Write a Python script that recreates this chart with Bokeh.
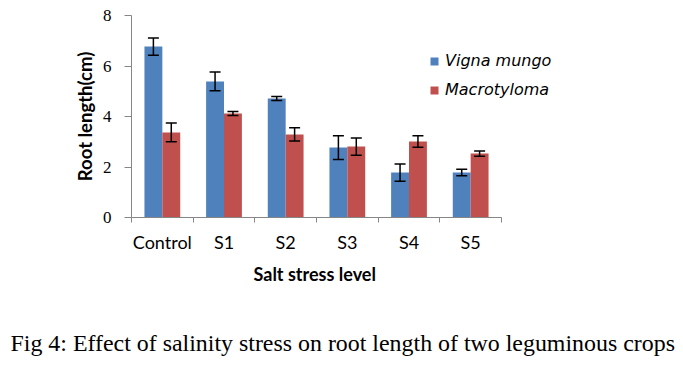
import numpy as np
from bokeh.plotting import figure
from bokeh.models import (ColumnDataSource, FixedTicker, Whisker, TeeHead, Legend,
                          LegendItem, Title, Range1d)
from bokeh.embed import file_html
from bokeh.resources import INLINE

categories = ["Control", "S1", "S2", "S3", "S4", "S5"]
series_names = ["Vigna mungo", "Macrotyloma"]
vigna = [6.77, 5.39, 4.71, 2.77, 1.78, 1.78]
vigna_err = [0.34, 0.37, 0.08, 0.47, 0.34, 0.13]
macro = [3.37, 4.12, 3.29, 2.81, 3.01, 2.53]
macro_err = [0.37, 0.08, 0.26, 0.34, 0.23, 0.10]
y_ticks = [0, 2, 4, 6, 8]
colors = ["#4F81BD", "#C0504D"]
x_title = "Salt stress level"
y_title = "Root length(cm)"
caption_text = "Fig 4: Effect of salinity stress on root length of two leguminous  crops"

n = len(categories)
centers = np.arange(n) + 0.5
bw = 0.29

# frame is wider than the category axis so the legend (which sits to the
# right of the bars) is not clipped; the axis itself is bounded to the categories
frame_l = 131
frame_w = 469
axis_w = 370
p = figure(width=675, height=360, output_backend="svg", toolbar_location=None,
           x_range=Range1d(0, n * frame_w / axis_w), y_range=Range1d(0, 8))
p.min_border_left = frame_l
p.min_border_right = 675 - frame_l - frame_w
p.min_border_top = 15
p.min_border_bottom = 143
p.outline_line_color = None
p.xgrid.visible = False
p.ygrid.visible = False

renderers = []
for k, (vals, errs) in enumerate([(vigna, vigna_err), (macro, macro_err)]):
    xs = centers + (k - 0.5) * bw
    v = np.array(vals)
    e = np.array(errs)
    src = ColumnDataSource(dict(x=xs, top=v, upper=v + e, lower=v - e))
    r = p.vbar(x="x", top="top", width=bw, source=src, fill_color=colors[k],
               line_color=None)
    renderers.append(r)
    w = Whisker(base="x", upper="upper", lower="lower", source=src,
                line_color="black", line_width=1.5, level="overlay",
                upper_head=TeeHead(size=11, line_color="black", line_width=1.5),
                lower_head=TeeHead(size=11, line_color="black", line_width=1.5))
    p.add_layout(w)

# x axis
xa = p.xaxis[0]
xa.bounds = (0, n)
xa.ticker = FixedTicker(ticks=list(centers), minor_ticks=list(range(n + 1)))
xa.major_label_overrides = {float(c): lab for c, lab in zip(centers, categories)}
xa.major_tick_line_color = None
xa.major_tick_out = 0
xa.major_tick_in = 0
xa.minor_tick_out = 5
xa.minor_tick_in = 0
xa.minor_tick_line_color = "#868686"
xa.axis_line_color = "#868686"
xa.major_label_text_font = "Lato"
xa.major_label_text_font_size = "18px"
xa.major_label_text_color = "black"
xa.major_label_standoff = 8

ya = p.yaxis[0]
ya.ticker = FixedTicker(ticks=y_ticks, minor_ticks=[])
ya.major_tick_out = 7
ya.major_tick_in = 0
ya.major_tick_line_color = "#868686"
ya.minor_tick_line_color = None
ya.axis_line_color = "#868686"
ya.major_label_text_font = "Liberation Serif"
ya.major_label_text_font_size = "17px"
ya.major_label_text_color = "black"
ya.major_label_standoff = 13
ya.axis_label = y_title
ya.axis_label_text_font = "Lato"
ya.axis_label_text_font_style = "bold"
ya.axis_label_text_font_size = "18.5px"
ya.axis_label_text_color = "black"
ya.axis_label_standoff = 4

legend = Legend(items=[LegendItem(label=series_names[i], renderers=[renderers[i]])
                       for i in range(2)],
                location=(298, 118), orientation="vertical")
legend.glyph_width = 10
legend.glyph_height = 10
legend.label_standoff = 6
legend.spacing = 10
legend.padding = 0
legend.margin = 0
legend.border_line_color = None
legend.background_fill_alpha = 0
legend.label_text_font = "DejaVu Sans"
legend.label_text_font_style = "italic"
legend.label_text_font_size = "16px"
legend.label_text_color = "black"
p.add_layout(legend)


def spacer(gap):
    return Title(text=" ", standoff=gap, text_font_size="1px", vertical_align="top")


p.add_layout(spacer(4), "below")
xt = Title(text=x_title, align="left", offset=122, standoff=0, vertical_align="top",
           text_font="Lato", text_font_size="18px", text_font_style="bold",
           text_color="black")
p.add_layout(xt, "below")
p.add_layout(spacer(40), "below")
caption = Title(text=caption_text, align="left", offset=10 - frame_l, standoff=0,
                vertical_align="top",
                text_font="Liberation Serif", text_font_size="23.9px",
                text_font_style="normal", text_color="black")
p.add_layout(caption, "below")

open("out.html", "w").write(file_html(p, INLINE))
